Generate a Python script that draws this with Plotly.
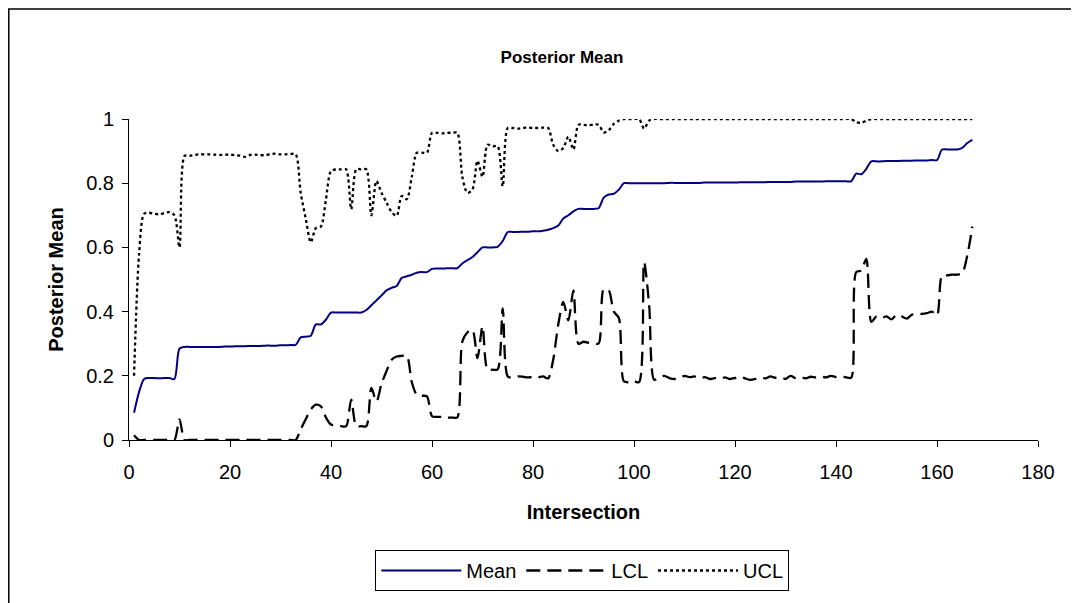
import plotly.graph_objects as go

intersection = list(range(1, 168))

mean_vals = [
    0.085, 0.15, 0.19, 0.193, 0.193, 0.192, 0.193, 0.193, 0.19, 0.285,
    0.29, 0.29, 0.29, 0.29, 0.29, 0.29, 0.29, 0.29, 0.291, 0.291,
    0.292, 0.292, 0.292, 0.293, 0.293, 0.293, 0.294, 0.294, 0.294, 0.295,
    0.295, 0.296, 0.296, 0.32, 0.322, 0.325, 0.36, 0.36, 0.375, 0.397,
    0.397, 0.397, 0.397, 0.397, 0.397, 0.397, 0.405, 0.42, 0.435, 0.45,
    0.466, 0.474, 0.48, 0.505, 0.51, 0.515, 0.521, 0.523, 0.523, 0.533,
    0.534, 0.534, 0.535, 0.535, 0.535, 0.55, 0.56, 0.57, 0.585, 0.60,
    0.60, 0.60, 0.602, 0.62, 0.648, 0.648, 0.648, 0.649, 0.649, 0.65,
    0.65, 0.652, 0.655, 0.66, 0.668, 0.69, 0.70, 0.712, 0.72, 0.72,
    0.72, 0.72, 0.722, 0.755, 0.765, 0.767, 0.78, 0.80, 0.80, 0.80,
    0.80, 0.80, 0.80, 0.80, 0.80, 0.80, 0.801, 0.801, 0.801, 0.801,
    0.801, 0.801, 0.801, 0.802, 0.802, 0.802, 0.802, 0.802, 0.802, 0.802,
    0.803, 0.803, 0.803, 0.803, 0.803, 0.803, 0.804, 0.804, 0.804, 0.804,
    0.804, 0.805, 0.805, 0.805, 0.805, 0.805, 0.805, 0.806, 0.806, 0.806,
    0.806, 0.806, 0.806, 0.83, 0.828, 0.845, 0.868, 0.868, 0.868, 0.869,
    0.869, 0.869, 0.87, 0.87, 0.87, 0.871, 0.871, 0.871, 0.872, 0.872,
    0.905, 0.905, 0.905, 0.905, 0.91, 0.925, 0.935,
]

lcl_vals = [
    0.015, 0.0, 0.0, 0.0, 0.0, 0.0, 0.0, 0.0, 0.0, 0.064,
    0.0, 0.0, 0.0, 0.0, 0.0, 0.0, 0.0, 0.0, 0.0, 0.0,
    0.0, 0.0, 0.0, 0.0, 0.0, 0.0, 0.0, 0.0, 0.0, 0.0,
    0.0, 0.0, 0.0, 0.033, 0.065, 0.095, 0.11, 0.105, 0.07, 0.048,
    0.045, 0.043, 0.043, 0.126, 0.043, 0.043, 0.043, 0.162, 0.12, 0.175,
    0.215, 0.25, 0.26, 0.262, 0.263, 0.18, 0.141, 0.138, 0.136, 0.074,
    0.072, 0.072, 0.07, 0.07, 0.07, 0.306, 0.335, 0.343, 0.255, 0.354,
    0.219, 0.219, 0.22, 0.41, 0.198, 0.195, 0.198, 0.197, 0.195, 0.196,
    0.195, 0.198, 0.192, 0.25, 0.36, 0.43, 0.373, 0.466, 0.30, 0.306,
    0.303, 0.301, 0.301, 0.47, 0.466, 0.40, 0.38, 0.183, 0.18, 0.183,
    0.18, 0.554, 0.42, 0.188, 0.195, 0.2, 0.193, 0.19, 0.192, 0.2,
    0.196, 0.198, 0.192, 0.196, 0.19, 0.193, 0.19, 0.195, 0.19, 0.193,
    0.198, 0.192, 0.187, 0.19, 0.195, 0.192, 0.198, 0.194, 0.196, 0.19,
    0.2, 0.193, 0.196, 0.192, 0.197, 0.195, 0.198, 0.195, 0.2, 0.196,
    0.198, 0.195, 0.194, 0.523, 0.528, 0.564, 0.368, 0.385, 0.38, 0.385,
    0.376, 0.39, 0.385, 0.378, 0.39, 0.394, 0.393, 0.395, 0.40, 0.388,
    0.513, 0.513, 0.515, 0.515, 0.52, 0.575, 0.665,
]

ucl_vals = [
    0.2, 0.58, 0.705, 0.708, 0.705, 0.703, 0.707, 0.71, 0.70, 0.60,
    0.885, 0.885, 0.888, 0.89, 0.89, 0.89, 0.889, 0.888, 0.889, 0.889,
    0.887, 0.886, 0.882, 0.888, 0.889, 0.887, 0.888, 0.89, 0.892, 0.89,
    0.89, 0.891, 0.89, 0.77, 0.69, 0.616, 0.66, 0.665, 0.75, 0.838,
    0.843, 0.843, 0.843, 0.719, 0.843, 0.843, 0.843, 0.70, 0.807, 0.77,
    0.74, 0.71, 0.698, 0.76, 0.75, 0.82, 0.895, 0.895, 0.895, 0.957,
    0.957, 0.955, 0.957, 0.957, 0.957, 0.82, 0.77, 0.78, 0.87, 0.82,
    0.92, 0.915, 0.915, 0.79, 0.972, 0.972, 0.97, 0.972, 0.973, 0.972,
    0.972, 0.973, 0.972, 0.92, 0.90, 0.91, 0.945, 0.905, 0.982, 0.982,
    0.98, 0.983, 0.982, 0.958, 0.965, 0.985, 0.995, 1.0, 1.0, 1.0,
    1.0, 0.97, 0.995, 1.0, 1.0, 1.0, 1.0, 1.0, 1.0, 1.0,
    1.0, 1.0, 1.0, 1.0, 1.0, 1.0, 1.0, 1.0, 1.0, 1.0,
    1.0, 1.0, 1.0, 1.0, 1.0, 1.0, 1.0, 1.0, 1.0, 1.0,
    1.0, 1.0, 1.0, 1.0, 1.0, 1.0, 1.0, 1.0, 1.0, 1.0,
    1.0, 1.0, 1.0, 0.99, 0.988, 0.995, 1.0, 1.0, 1.0, 1.0,
    1.0, 1.0, 1.0, 1.0, 1.0, 1.0, 1.0, 1.0, 1.0, 1.0,
    1.0, 1.0, 1.0, 1.0, 1.0, 1.0, 1.0,
]

x_ticks = [0, 20, 40, 60, 80, 100, 120, 140, 160, 180]
y_ticks = [0, 0.2, 0.4, 0.6, 0.8, 1]
y_tick_labels = ["0", "0.2", "0.4", "0.6", "0.8", "1"]

FONT = "Arial, Liberation Sans, sans-serif"

fig = go.Figure()
fig.add_trace(go.Scatter(
    x=intersection, y=mean_vals, name="Mean", mode="lines",
    line=dict(color="#000080", width=2, shape="spline", smoothing=0.8),
))
fig.add_trace(go.Scatter(
    x=intersection, y=lcl_vals, name="LCL", mode="lines",
    line=dict(color="black", width=2.3, dash="14px,7px", shape="spline", smoothing=0.8),
))
fig.add_trace(go.Scatter(
    x=intersection, y=ucl_vals, name="UCL", mode="lines",
    line=dict(color="black", width=2.3, dash="3px,3px", shape="spline", smoothing=0.8),
))

# page body has an 8px margin; positions below are page pixels minus 8
OFF = 8
W, H = 1071, 595
L, T = 128.7 - OFF, 119.3 - OFF
pw, ph = 909.0, 323.0
R, B = W - L - pw, H - T - ph

def px_x(p):
    return (p - OFF - L) / pw

def px_y(p):
    return (T + ph - (p - OFF)) / ph

fig.update_layout(
    width=W, height=H,
    margin=dict(l=L, r=R, t=T, b=B, pad=0),
    paper_bgcolor="white", plot_bgcolor="white",
    font=dict(family=FONT, size=20, color="black"),
    title=dict(
        text="<b>Posterior Mean</b>", font=dict(size=17, family=FONT),
        x=(562 - OFF) / W, xanchor="center", xref="container",
        y=1 - (57 - OFF) / H, yanchor="middle", yref="container",
    ),
    xaxis=dict(
        range=[0, 180], tickvals=x_ticks, showgrid=False, zeroline=False,
        showline=True, linecolor="black", linewidth=1,
        ticks="outside", ticklen=6, tickcolor="black", ticklabelstandoff=8,
        title=dict(text="<b>Intersection</b>", font=dict(size=20), standoff=22),
    ),
    yaxis=dict(
        range=[0, 1], tickvals=y_ticks, ticktext=y_tick_labels,
        showgrid=False, zeroline=False,
        showline=True, linecolor="black", linewidth=1,
        ticks="outside", ticklen=6, tickcolor="black", ticklabelstandoff=4,
        title=dict(text="<b>Posterior Mean</b>", font=dict(size=20), standoff=17),
    ),
    legend=dict(
        orientation="h", x=px_x(375), y=px_y(553), xanchor="left", yanchor="top",
        bordercolor="black", borderwidth=1, font=dict(size=20),
        itemwidth=80, tracegroupgap=0,
    ),
    showlegend=True,
    shapes=[dict(
        type="rect", xref="paper", yref="paper",
        x0=px_x(8.5), x1=px_x(1100), y0=px_y(640), y1=px_y(8.5),
        line=dict(color="black", width=1.5), layer="below",
    )],
)

fig.write_html("out.html")
